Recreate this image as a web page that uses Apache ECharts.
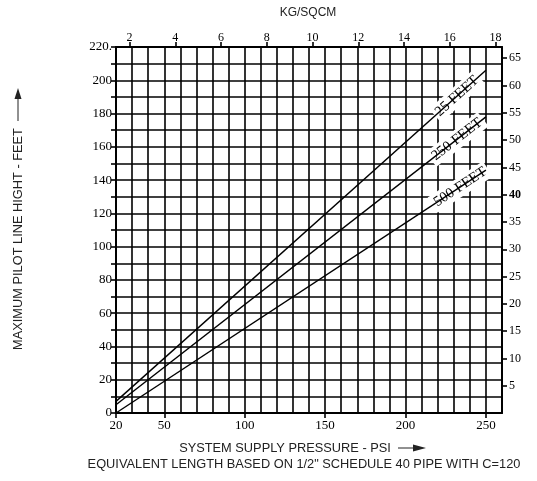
<!DOCTYPE html>
<html>
<head>
<meta charset="utf-8">
<script src="https://cdn.jsdelivr.net/npm/echarts@6/dist/echarts.min.js"></script>
<style>
  html, body { margin: 0; padding: 0; background: #fff; }
  #chart { width: 537px; height: 481px; }
</style>
</head>
<body>
<div id="chart"></div>
<script>
// Supply pressure (psi) at the two ends of every curve
const pressurePsi = [20, 250];
// Maximum pilot line height (feet) at those pressures, per equivalent pipe length
const height25ft = [7, 206];
const height250ft = [5, 178];
const height500ft = [0, 146];
const curveNames = ['25 FEET', '250 FEET', '500 FEET'];
// Pressure where each curve's name sits
const namePsi = [232, 232, 234];

// Tick labels
const psiTicks = [20, 50, 100, 150, 200, 250];
const kgTicks = [2, 4, 6, 8, 10, 12, 14, 16, 18];
const meterTicks = [5, 10, 15, 20, 25, 30, 35, 40, 45, 50, 55, 60, 65];

const PSI_MIN = 20, PSI_MAX = 260;
const FT_MIN = 0, FT_MAX = 220;
const PSI_PER_KG = 14.2233;
const M_PER_FT = 0.3048;

const SERIF = '"Liberation Serif", "DejaVu Serif", serif';
const SANS = '"Liberation Sans", Arial, sans-serif';
const INK = '#000';
const TITLE_FONT = '12.8px ' + SANS;

const chart = echarts.init(document.getElementById('chart'), null, { renderer: 'canvas' });

const curves = [height25ft, height250ft, height500ft];

function heightAt(curve, p) {
  const t = (p - pressurePsi[0]) / (pressurePsi[1] - pressurePsi[0]);
  return curve[0] + t * (curve[1] - curve[0]);
}

function buildSeries(angles) {
  return curves.map((curve, i) => ({
    type: 'line',
    name: curveNames[i],
    xAxisIndex: 0,
    yAxisIndex: 0,
    data: pressurePsi.map((p, k) => [p, curve[k]]),
    showSymbol: false,
    symbol: 'none',
    silent: true,
    animation: false,
    lineStyle: { color: INK, width: 1.4 },
    z: 5,
    markPoint: {
      symbol: 'circle',
      symbolSize: 0,
      silent: true,
      animation: false,
      data: [{ coord: [namePsi[i], heightAt(curve, namePsi[i])] }],
      label: {
        show: true,
        position: 'inside',
        formatter: curveNames[i],
        rotate: angles ? angles[i] : 0,
        fontFamily: SERIF,
        fontSize: 14.5,
        color: INK,
        backgroundColor: '#fff',
        padding: [2, 3, 1, 3]
      }
    }
  }));
}

const hidden = { show: false };

const option = {
  animation: false,
  backgroundColor: '#fff',
  grid: { left: 116, top: 47, right: 35, bottom: 68, containLabel: false },
  xAxis: [
    {
      // grid lines every 10 psi and the bottom border
      type: 'value', position: 'bottom', min: PSI_MIN, max: PSI_MAX, interval: 10,
      axisLine: { show: true, lineStyle: { color: INK, width: 2 } },
      axisTick: hidden, axisLabel: hidden,
      splitLine: { show: true, lineStyle: { color: INK, width: 1.6 } }
    },
    {
      // psi ticks and labels
      type: 'value', position: 'bottom', min: PSI_MIN, max: PSI_MAX,
      axisLine: hidden, splitLine: hidden,
      axisTick: { show: true, inside: false, length: 5, customValues: psiTicks, lineStyle: { color: INK, width: 1.6 } },
      axisLabel: { show: true, customValues: psiTicks, margin: 6, fontFamily: SERIF, fontSize: 13, color: INK,
        showMinLabel: true, showMaxLabel: true }
    },
    {
      // kg/cm2 scale along the top
      type: 'value', position: 'top', min: PSI_MIN / PSI_PER_KG, max: PSI_MAX / PSI_PER_KG,
      axisLine: { show: true, lineStyle: { color: INK, width: 2 } }, splitLine: hidden,
      axisTick: { show: true, inside: false, length: 5, customValues: kgTicks, lineStyle: { color: INK, width: 1.6 } },
      axisLabel: { show: true, customValues: kgTicks, margin: 3, fontFamily: SERIF, fontSize: 12, color: INK }
    }
  ],
  yAxis: [
    {
      // feet scale, grid lines every 10 ft
      type: 'value', position: 'left', min: FT_MIN, max: FT_MAX, interval: 10,
      axisLine: { show: true, lineStyle: { color: INK, width: 2 } },
      axisTick: { show: true, inside: false, length: 5, lineStyle: { color: INK, width: 1.6 } },
      axisLabel: {
        show: true, margin: 4, fontFamily: SERIF, fontSize: 13, color: INK,
        showMinLabel: true, showMaxLabel: true,
        formatter: v => (v % 20 === 0 ? (v === 220 ? '220.' : String(v)) : '')
      },
      splitLine: { show: true, lineStyle: { color: INK, width: 1.6 } }
    },
    {
      // metres along the right
      type: 'value', position: 'right', min: FT_MIN * M_PER_FT, max: FT_MAX * M_PER_FT,
      axisLine: { show: true, lineStyle: { color: INK, width: 2 } }, splitLine: hidden,
      axisTick: { show: true, inside: false, length: 5, customValues: meterTicks, lineStyle: { color: INK, width: 1.6 } },
      axisLabel: {
        show: true, customValues: meterTicks, margin: 7, fontFamily: SERIF, fontSize: 12, color: INK,
        formatter: v => (v === 40 ? '{b|40}' : String(v)),
        rich: { b: { fontFamily: SERIF, fontSize: 12, fontWeight: 'bold', color: INK } }
      }
    }
  ],
  series: buildSeries(null),
  graphic: [
    { type: 'text', x: 308, y: 13, style: { text: 'KG/SQCM', font: '12px ' + SANS, fill: '#222', textAlign: 'center', textVerticalAlign: 'middle' } },
    { type: 'text', x: 18, y: 239, rotation: Math.PI / 2,
      style: { text: 'MAXIMUM PILOT LINE HIGHT - FEET', font: TITLE_FONT, fill: '#222', textAlign: 'center', textVerticalAlign: 'middle' } },
    { type: 'line', shape: { x1: 18, y1: 121, x2: 18, y2: 98 }, style: { stroke: '#222', lineWidth: 1 } },
    { type: 'polygon', shape: { points: [[18, 88], [14.5, 99], [21.5, 99]] }, style: { fill: '#222' } },
    { type: 'text', x: 285, y: 448, style: { text: 'SYSTEM SUPPLY PRESSURE - PSI', font: TITLE_FONT, fill: '#222', textAlign: 'center', textVerticalAlign: 'middle' } },
    { type: 'line', shape: { x1: 398, y1: 448, x2: 414, y2: 448 }, style: { stroke: '#222', lineWidth: 1 } },
    { type: 'polygon', shape: { points: [[426, 448], [413, 444.5], [413, 451.5]] }, style: { fill: '#222' } },
    { type: 'text', x: 304, y: 464, style: { text: 'EQUIVALENT LENGTH BASED ON 1/2" SCHEDULE 40 PIPE WITH C=120', font: TITLE_FONT, fill: '#222', textAlign: 'center', textVerticalAlign: 'middle' } }
  ]
};

chart.setOption(option);

// Tilt each curve name to follow its line on screen
const angles = curves.map(curve => {
  const a = chart.convertToPixel({ xAxisIndex: 0, yAxisIndex: 0 }, [pressurePsi[0], curve[0]]);
  const b = chart.convertToPixel({ xAxisIndex: 0, yAxisIndex: 0 }, [pressurePsi[1], curve[1]]);
  return Math.atan2(a[1] - b[1], b[0] - a[0]) * 180 / Math.PI;
});
chart.setOption({ series: buildSeries(angles) });
</script>
</body>
</html>
